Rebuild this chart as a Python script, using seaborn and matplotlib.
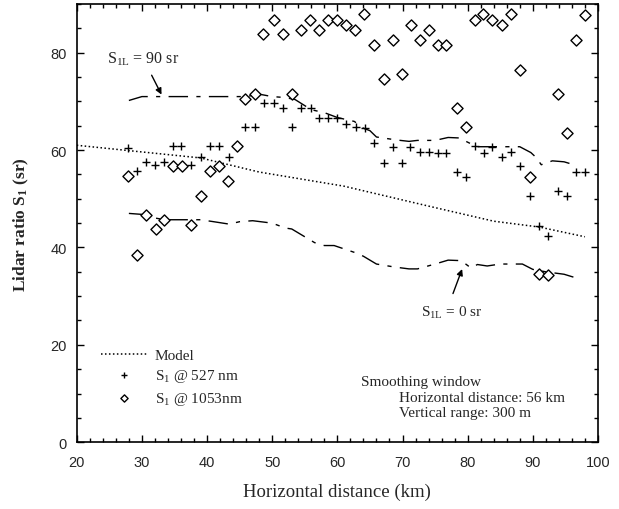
import matplotlib
matplotlib.use("Agg")
import matplotlib.pyplot as plt
import seaborn as sns
import pandas as pd
from matplotlib.ticker import MultipleLocator

# ---------------- data ----------------
model_x = [20, 28, 39, 48, 61, 74, 84, 91, 98]
model_y = [61.0, 59.9, 58.4, 55.5, 52.6, 48.5, 45.4, 44.2, 42.2]

plus_x = [27.9, 29.2, 30.7, 32.0, 33.4, 34.8, 36.0, 37.6, 39.1, 40.5, 41.8, 43.3,
          44.6, 45.9, 47.4, 48.7, 50.2, 51.7, 53.0, 54.4, 55.9, 57.2, 58.6, 59.9,
          61.3, 62.8, 64.3, 65.7, 67.1, 68.5, 69.9, 71.2, 72.7, 74.0, 75.4, 76.7,
          78.3, 79.7, 81.1, 82.5, 83.8, 85.2, 86.7, 88.1, 89.6, 91.0, 92.4, 93.9,
          95.3, 96.7, 98.0]
plus_y = [60.4, 55.7, 57.5, 56.9, 57.5, 60.8, 60.8, 56.9, 58.6, 60.8, 60.8, 58.6,
          60.8, 64.7, 64.7, 69.7, 69.7, 68.6, 64.7, 68.6, 68.6, 66.5, 66.5, 66.5,
          65.4, 64.7, 64.5, 61.5, 57.4, 60.6, 57.4, 60.6, 59.6, 59.6, 59.4, 59.4,
          55.5, 54.4, 60.8, 59.4, 60.6, 58.5, 59.6, 56.7, 50.5, 44.5, 42.3, 51.6,
          50.5, 55.5, 55.5]

dia_x = [27.9, 29.2, 30.7, 32.1, 33.4, 34.8, 36.2, 37.6, 39.0, 40.4, 41.8, 43.2,
         44.6, 45.9, 47.4, 48.6, 50.2, 51.7, 53.0, 54.4, 55.8, 57.2, 58.6, 59.9,
         61.3, 62.7, 64.1, 65.7, 67.1, 68.5, 69.9, 71.3, 72.7, 74.0, 75.4, 76.7,
         78.3, 79.7, 81.1, 82.4, 83.8, 85.2, 86.7, 88.1, 89.6, 91.0, 92.4, 93.8,
         95.3, 96.7, 98.0]
dia_y = [54.6, 38.4, 46.6, 43.7, 45.6, 56.7, 56.7, 44.6, 50.5, 55.7, 56.8, 53.6,
         60.8, 70.6, 71.6, 83.8, 86.8, 83.8, 71.6, 84.7, 86.8, 84.7, 86.8, 86.8,
         85.7, 84.7, 87.9, 81.6, 74.6, 82.7, 75.7, 85.7, 82.7, 84.7, 81.6, 81.6,
         68.6, 64.7, 86.8, 87.9, 86.8, 85.7, 87.9, 76.5, 54.4, 34.5, 34.3, 71.5,
         63.5, 82.7, 87.8]

upper_x = [28, 30, 34, 38, 42, 44, 46, 48, 50, 52, 53.5, 56, 58, 60, 62.6, 64, 65,
           66, 69, 71, 72.3, 75, 77, 78.7, 81.4, 85, 88, 89.7, 90.5, 91.3, 93, 94.8, 96.8]
upper_y = [70.2, 71, 71, 71, 71, 71, 71, 71.5, 71, 70.8, 70.4, 68.3, 67.7, 66.7, 65.9,
           64.5, 64, 62.7, 62.1, 61.8, 62, 62, 62.6, 62.5, 60.7, 60.7, 60.7, 59.5, 58.5,
           57, 57.8, 57.6, 56.8]

lower_x = [28, 30, 31, 33.5, 37.6, 39, 41, 43.4, 45, 47, 50, 52, 53, 56.5, 58, 59.5,
           62.6, 64, 66, 68.7, 71, 72.3, 75, 77, 79, 80.5, 81.5, 83, 85, 88.4, 90, 92,
           94.8, 97]
lower_y = [47, 46.8, 46.3, 45.7, 45.7, 45.7, 45.3, 44.8, 45.3, 45.5, 45, 44, 43.8, 41,
           40.4, 40.4, 39.0, 38.2, 36.6, 36.0, 35.6, 35.6, 36.6, 37.4, 37.3, 35.8, 36.5,
           36.2, 36.6, 36.6, 35.5, 35.0, 34.5, 33.6]

x_ticks = [20, 30, 40, 50, 60, 70, 80, 90, 100]
y_ticks = [0, 20, 40, 60, 80]

# ---------------- style ----------------
sns.set_style("ticks")
plt.rcParams["font.family"] = ["Liberation Serif", "DejaVu Serif"]
plt.rcParams["mathtext.fontset"] = "custom"
plt.rcParams["mathtext.rm"] = "Liberation Serif"
plt.rcParams["mathtext.it"] = "Liberation Serif:italic"
plt.rcParams["mathtext.bf"] = "Liberation Serif:bold"
plt.rcParams["mathtext.default"] = "regular"

fig = plt.figure(figsize=(6.19, 5.10), dpi=100)
ax = fig.add_axes([0.124, 0.131, 0.842, 0.859])

df_model = pd.DataFrame({"x": model_x, "y": model_y})
df_plus = pd.DataFrame({"x": plus_x, "y": plus_y})
df_dia = pd.DataFrame({"x": dia_x, "y": dia_y})
df_up = pd.DataFrame({"x": upper_x, "y": upper_y})
df_lo = pd.DataFrame({"x": lower_x, "y": lower_y})

sns.lineplot(data=df_model, x="x", y="y", ax=ax, color="black", lw=1.1,
             linestyle=(0, (1, 1.6)), estimator=None, sort=False, label="Model")
sns.scatterplot(data=df_plus, x="x", y="y", ax=ax, marker="+", s=32, color="black",
                linewidth=1.0, label="S$_1$ @ 527 nm")
sns.scatterplot(data=df_dia, x="x", y="y", ax=ax, marker="D", s=32, facecolor="white",
                edgecolor="black", linewidth=1.0, label="S$_1$ @ 1053nm", zorder=3)
sns.lineplot(data=df_up, x="x", y="y", ax=ax, color="black", lw=1.0,
             linestyle=(0, (14, 6, 3, 6)), estimator=None, sort=False)
sns.lineplot(data=df_lo, x="x", y="y", ax=ax, color="black", lw=1.0,
             linestyle=(0, (14, 6, 3, 6)), estimator=None, sort=False)

ax.set_xlim(20, 100)
ax.set_ylim(0, 90)
ax.set_xticks(x_ticks)
ax.set_yticks(y_ticks)
ax.xaxis.set_minor_locator(MultipleLocator(2))
ax.yaxis.set_minor_locator(MultipleLocator(5))
ax.tick_params(which="both", direction="in", top=True, right=True, color="black",
               width=1.0)
ax.tick_params(which="major", length=5)
ax.tick_params(which="minor", length=3)
ax.tick_params(axis="x", which="major", pad=9)
ax.tick_params(axis="y", which="major", pad=7)
for lab in ax.get_xticklabels() + ax.get_yticklabels():
    lab.set_family("Liberation Sans")
    lab.set_fontsize(10.5)
for sp in ax.spines.values():
    sp.set_linewidth(1.2)
    sp.set_color("black")

ax.set_xlabel("Horizontal distance (km)", fontsize=13.5, labelpad=10)
ax.set_ylabel(r"Lidar ratio S$_\mathbf{1}$ (sr)", fontsize=12.5, fontweight="bold",
              labelpad=14)

leg = ax.legend(loc="upper left", bbox_to_anchor=(0.035, 0.228), frameon=False,
                fontsize=11, handlelength=3.0, handletextpad=0.5, labelspacing=0.35,
                borderaxespad=0, markerscale=0.65)

ax.text(24.6, 78.8, "S$_{1L}$ = 90 sr", fontsize=11.5, va="center", ha="left")
ax.annotate("", xy=(33.2, 70.9), xytext=(31.3, 75.9),
            arrowprops=dict(arrowstyle="-|>", color="black", lw=1.0,
                            mutation_scale=9))
ax.text(72.9, 26.7, "S$_{1L}$ = 0 sr", fontsize=11, va="center", ha="left")
ax.annotate("", xy=(79.3, 36.1), xytext=(77.6, 30.0),
            arrowprops=dict(arrowstyle="-|>", color="black", lw=1.0,
                            mutation_scale=9))

ax.text(63.7, 12.5, "Smoothing window", fontsize=11, va="center", ha="left")
ax.text(69.5, 9.2, "Horizontal distance: 56 km", fontsize=11, va="center", ha="left")
ax.text(69.5, 6.1, "Vertical range: 300 m", fontsize=11, va="center", ha="left")

fig.savefig("out.png", dpi=100)
